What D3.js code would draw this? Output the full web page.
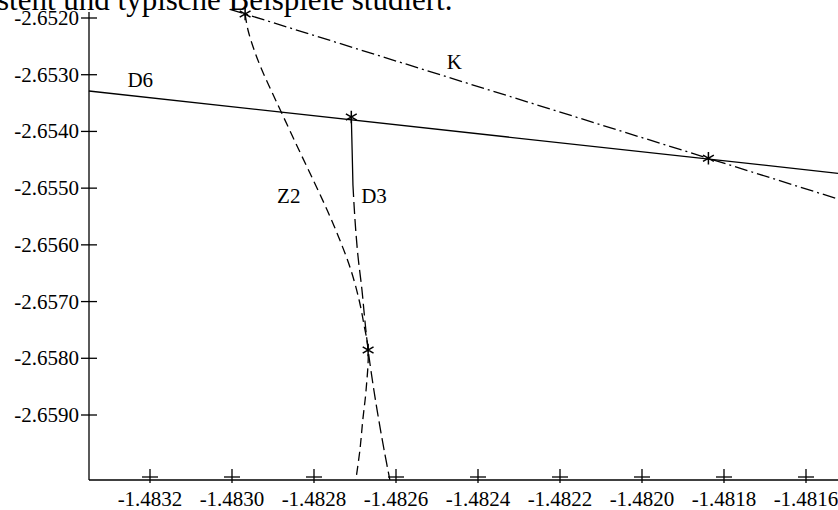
<!DOCTYPE html>
<html><head><meta charset="utf-8">
<script src="https://cdn.jsdelivr.net/npm/d3@7"></script>
<style>
html,body{margin:0;padding:0;background:#fff;}
text{font-family:"Liberation Serif","Times New Roman",serif;fill:#000;}
</style></head>
<body><svg id="c" width="838" height="510"></svg>
<script>
// ---- data ----
const xTicks = [-1.4832, -1.4830, -1.4828, -1.4826, -1.4824, -1.4822, -1.4820, -1.4818, -1.4816];
const yTicks = [-2.6520, -2.6530, -2.6540, -2.6550, -2.6560, -2.6570, -2.6580, -2.6590];
const titleText = "steht und typische Beispiele studiert.";

// line D6 (solid, straight)
const D6 = [[-1.483349, -2.653287], [-1.481522, -2.654738]];
// curve K (dash-dot)
const K = [[-1.483005, -2.651847], [-1.482968, -2.651929], [-1.481838, -2.654474], [-1.481522, -2.655191]];
// curve Z2 (dashed)
const Z2 = [[-1.482968, -2.651929], [-1.482961, -2.652212], [-1.482946, -2.652564], [-1.482927, -2.652917],
  [-1.482905, -2.653270], [-1.482880, -2.653657], [-1.482839, -2.654292], [-1.482802, -2.654856],
  [-1.482768, -2.655385], [-1.482737, -2.655914], [-1.482710, -2.656443], [-1.482690, -2.656972],
  [-1.482678, -2.657413], [-1.482668, -2.657854], [-1.482673, -2.658559], [-1.482681, -2.659088],
  [-1.482688, -2.659617], [-1.482698, -2.660146]];
// curve D3 (long dashes)
const D3 = [[-1.482709, -2.653746], [-1.482707, -2.654327], [-1.482705, -2.654945], [-1.482700, -2.655562],
  [-1.482693, -2.656179], [-1.482683, -2.656796], [-1.482676, -2.657325], [-1.482668, -2.657854],
  [-1.482654, -2.658559], [-1.482642, -2.659088], [-1.482629, -2.659617], [-1.482615, -2.660146]];
// intersection points (asterisks)
const stars = [[-1.482968, -2.651929], [-1.482709, -2.653746], [-1.481838, -2.654474], [-1.482668, -2.657854]];
// curve labels
const labels = [
  {t: "D6", x: -1.483255, y: -2.653210},
  {t: "K",  x: -1.482476, y: -2.652900},
  {t: "Z2", x: -1.482890, y: -2.655270},
  {t: "D3", x: -1.482685, y: -2.655270}
];

// ---- drawing ----
const svg = d3.select("#c");
const W = 838, H = 510;
const x = d3.scaleLinear().domain([-1.4832, -1.4816]).range([150, 806]);
const y = d3.scaleLinear().domain([-2.6520, -2.6590]).range([18, 415]);
const axisX = 89, axisY = 480;

// title text (cut at top)
svg.append("text").attr("x", -3).attr("y", 10).attr("font-size", 31).text(titleText);

// axes lines
svg.append("line").attr("x1", axisX).attr("x2", axisX).attr("y1", 12).attr("y2", axisY)
  .attr("stroke", "#000").attr("stroke-width", 1.3);
svg.append("line").attr("x1", axisX).attr("x2", W).attr("y1", axisY).attr("y2", axisY)
  .attr("stroke", "#000").attr("stroke-width", 1.3);

// y ticks
const yt = svg.append("g");
yTicks.forEach(v => {
  yt.append("line").attr("x1", axisX - 8).attr("x2", axisX + 8).attr("y1", y(v)).attr("y2", y(v))
    .attr("stroke", "#000").attr("stroke-width", 1.3);
  yt.append("text").attr("x", axisX - 10).attr("y", y(v)).attr("dy", "0.33em")
    .attr("text-anchor", "end").attr("font-size", 21).text(v.toFixed(4));
});
// x ticks (plus marks)
const xt = svg.append("g");
xTicks.forEach(v => {
  xt.append("line").attr("x1", x(v) - 8).attr("x2", x(v) + 8).attr("y1", axisY - 3).attr("y2", axisY - 3)
    .attr("stroke", "#000").attr("stroke-width", 1.3);
  xt.append("line").attr("x1", x(v)).attr("x2", x(v)).attr("y1", axisY - 11).attr("y2", axisY + 3)
    .attr("stroke", "#000").attr("stroke-width", 1.3);
  xt.append("text").attr("x", x(v)).attr("y", 506).attr("text-anchor", "middle")
    .attr("font-size", 21).text(v.toFixed(4));
});

const line = d3.line().x(d => x(d[0])).y(d => y(d[1]));
const curve = d3.line().x(d => x(d[0])).y(d => y(d[1])).curve(d3.curveCatmullRom);

svg.append("path").attr("d", line(D6)).attr("fill", "none").attr("stroke", "#000").attr("stroke-width", 1.3);
svg.append("path").attr("d", line(K)).attr("fill", "none").attr("stroke", "#000").attr("stroke-width", 1.3)
  .attr("stroke-dasharray", "13,4,2,4");
svg.append("path").attr("d", curve(Z2)).attr("fill", "none").attr("stroke", "#000").attr("stroke-width", 1.3)
  .attr("stroke-dasharray", "9,5");
svg.append("path").attr("d", curve(D3.slice(0, 3))).attr("fill", "none").attr("stroke", "#000").attr("stroke-width", 1.3);
svg.append("path").attr("d", curve(D3.slice(2))).attr("fill", "none").attr("stroke", "#000").attr("stroke-width", 1.3)
  .attr("stroke-dasharray", "12,5");

const sym = d3.symbol().type(d3.symbolAsterisk).size(110);
svg.append("g").selectAll("path").data(stars).join("path")
  .attr("transform", d => `translate(${x(d[0])},${y(d[1])})`)
  .attr("d", sym).attr("fill", "none").attr("stroke", "#000").attr("stroke-width", 1.5);

svg.append("g").selectAll("text").data(labels).join("text")
  .attr("x", d => x(d.x)).attr("y", d => y(d.y)).attr("font-size", 21).text(d => d.t);
</script></body></html>
